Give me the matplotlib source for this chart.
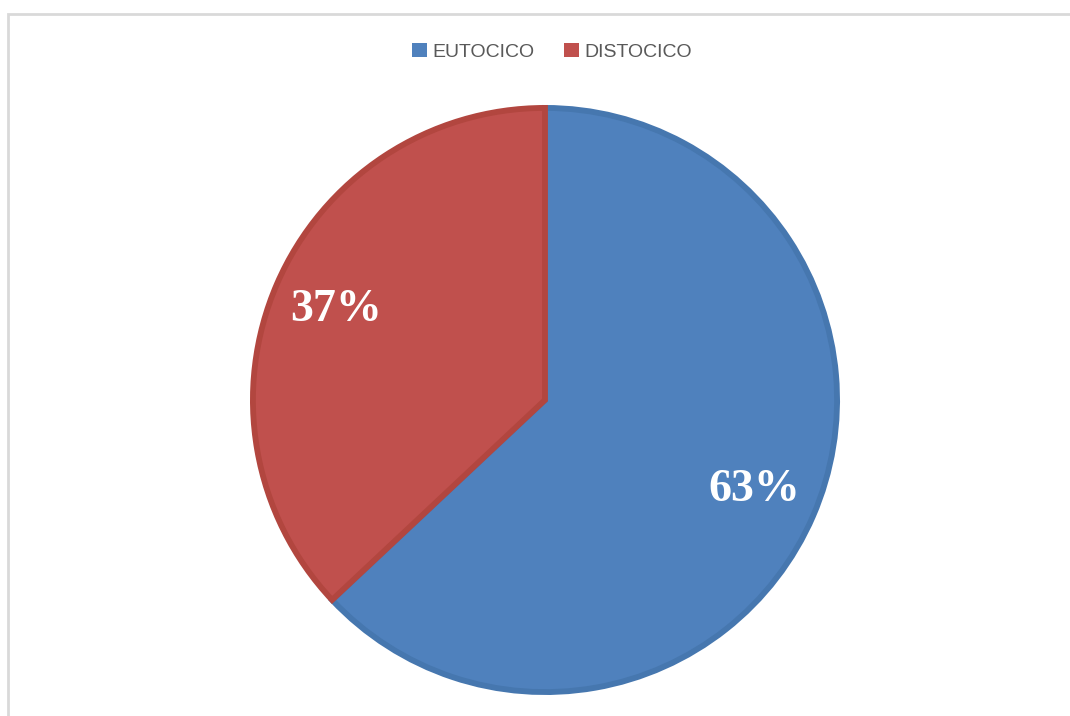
import matplotlib
matplotlib.use('Agg')
import matplotlib.pyplot as plt
from matplotlib.patches import Rectangle, Patch

# Data
labels = ['EUTOCICO', 'DISTOCICO']
values = [63, 37]
colors = ['#4F81BD', '#C0504D']
edge_colors = ['#4677AF', '#B2463F']

fig = plt.figure(figsize=(10.7, 7.16), dpi=100)

# light gray frame (only left/top visible in the reference)
frame = Rectangle((8 / 1070, -0.2), 2.0, (716 - 14) / 716 + 0.2,
                  transform=fig.transFigure, fill=False,
                  edgecolor='#D9D9D9', linewidth=2.0)
fig.patches.append(frame)

ax = fig.add_axes([250 / 1070, 21 / 716, 590 / 1070, 590 / 716])
wedges, texts, autotexts = ax.pie(
    values, colors=colors, startangle=90, counterclock=False,
    autopct='%1.0f%%', pctdistance=0.78,
    wedgeprops=dict(linewidth=4.2),
    textprops=dict(color='white', fontsize=33, fontweight='bold',
                   family='Liberation Serif'))
for w, ec in zip(wedges, edge_colors):
    w.set_edgecolor(ec)
ax.set_xlim(-1.01, 1.01)
ax.set_ylim(-1.01, 1.01)
ax.set_aspect('equal')
ax.axis('off')

handles = [Patch(facecolor=c, edgecolor='none') for c in colors]
fig.legend(handles, labels, loc='center', ncol=2,
           bbox_to_anchor=(0.516, 1 - 52 / 716), frameon=False,
           prop=dict(family='Liberation Sans', size=14),
           labelcolor='#595959', handlelength=0.75, handleheight=0.75,
           handletextpad=0.3, columnspacing=1.5)

fig.savefig('out.png', dpi=100, facecolor='white')
